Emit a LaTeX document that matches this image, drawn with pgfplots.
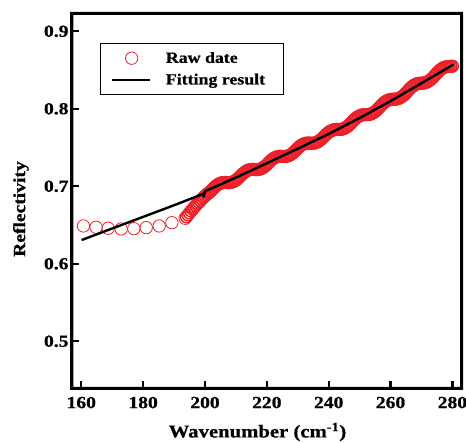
\documentclass[border=0pt]{standalone}
\usepackage{fontspec}
\setmainfont{Liberation Serif}[FakeStretch=1.15, BoldFeatures={FakeBold=0.8}]
\usepackage{pgfplots}
\pgfplotsset{compat=1.18}
\definecolor{rawred}{RGB}{236,32,40}
\pgfplotsset{
  rawleg/.style={legend image code/.code={\draw[##1] plot coordinates {(20pt,0pt)};}},
  lineleg/.style={legend image code/.code={\draw[##1] (0pt,0pt) -- (38pt,0pt);}},
}
\begin{document}
\begin{tikzpicture}
\begin{axis}[
  name=ax,
  scale only axis, width=389.7pt, height=375pt,
  xmin=157, xmax=283, ymin=0.4393, ymax=0.9232,
  clip marker paths=true,
  axis line style={line width=3pt, black},
  tick pos=left, tick align=inside,
  major tick length=7pt,
  every tick/.append style={line width=2.2pt, black},
  xtick={160,180,200,220,240,260,280},
  ytick={0.5,0.6,0.7,0.8,0.9},
  yticklabel style={/pgf/number format/fixed, /pgf/number format/precision=1, /pgf/number format/fixed zerofill},
  /pgf/number format/assume math mode=true,
  ticklabel style={font=\fontsize{17}{20}\selectfont\bfseries},
  xticklabel style={yshift=-5pt},
  xlabel={Wavenumber (cm\textsuperscript{-1})},
  ylabel={Reflectivity},
  xlabel style={at={(axis description cs:0.476,-0.131)}, anchor=base, font=\fontsize{18}{21}\selectfont\bfseries},
  ylabel style={at={(axis description cs:-0.131,0.478)}, anchor=center, font=\fontsize{17}{20}\selectfont\bfseries},
  legend style={at={(0.0719,0.9208)}, anchor=north west, draw=black, line width=1pt,
    font=\fontsize{15.5}{18}\selectfont\bfseries, inner xsep=10pt, inner ysep=8.5pt,
    row sep=9.3pt, column sep=15pt, nodes={inner sep=0pt}},
  legend cell align=left,
]
\addplot[only marks, mark=o, mark size=6.2pt, color=rawred, mark options={line width=0.8pt}, rawleg]
coordinates {
(160.7,0.6488)(164.8,0.6471)(168.7,0.6458)(172.9,0.6449)(177.0,0.6453)(181.0,0.6466)(185.2,0.6488)(189.3,0.6530)(193.6,0.6587)
};
\addlegendentry{Raw date}
\addplot[only marks, mark=o, mark size=5.9pt, color=rawred, mark options={line width=1.4pt}, forget plot]
coordinates {
(194.0,0.6605)(194.5,0.6630)(195.0,0.6655)(195.5,0.6680)(196.0,0.6703)(196.5,0.6726)(197.0,0.6750)(197.5,0.6772)
(198.0,0.6794)(198.5,0.6815)(199.0,0.6836)(199.5,0.6856)(200.0,0.6875)(200.5,0.6893)(201.0,0.6909)(201.5,0.6923)
(202.0,0.6943)(202.5,0.6963)(203.0,0.6984)(203.5,0.7002)(204.0,0.7018)(204.5,0.7030)(205.0,0.7039)(205.5,0.7046)
(206.0,0.7049)(206.5,0.7050)(207.0,0.7048)(207.5,0.7046)(208.0,0.7047)(208.5,0.7050)(209.0,0.7057)(209.5,0.7066)
(210.0,0.7079)(210.5,0.7094)(211.0,0.7112)(211.5,0.7133)(212.0,0.7153)(212.5,0.7171)(213.0,0.7187)(213.5,0.7199)
(214.0,0.7208)(214.5,0.7214)(215.0,0.7218)(215.5,0.7218)(216.0,0.7216)(216.5,0.7214)(217.0,0.7215)(217.5,0.7218)
(218.0,0.7224)(218.5,0.7233)(219.0,0.7246)(219.5,0.7261)(220.0,0.7279)(220.5,0.7300)(221.0,0.7320)(221.5,0.7339)
(222.0,0.7354)(222.5,0.7367)(223.0,0.7376)(223.5,0.7383)(224.0,0.7386)(224.5,0.7387)(225.0,0.7385)(225.5,0.7384)
(226.0,0.7384)(226.5,0.7388)(227.0,0.7394)(227.5,0.7404)(228.0,0.7416)(228.5,0.7432)(229.0,0.7450)(229.5,0.7471)
(230.0,0.7491)(230.5,0.7510)(231.0,0.7525)(231.5,0.7538)(232.0,0.7547)(232.5,0.7554)(233.0,0.7557)(233.5,0.7558)
(234.0,0.7556)(234.5,0.7555)(235.0,0.7555)(235.5,0.7559)(236.0,0.7565)(236.5,0.7575)(237.0,0.7587)(237.5,0.7603)
(238.0,0.7621)(238.5,0.7642)(239.0,0.7662)(239.5,0.7681)(240.0,0.7696)(240.5,0.7710)(241.0,0.7720)(241.5,0.7728)
(242.0,0.7732)(242.5,0.7734)(243.0,0.7733)(243.5,0.7733)(244.0,0.7734)(244.5,0.7739)(245.0,0.7746)(245.5,0.7757)
(246.0,0.7770)(246.5,0.7787)(247.0,0.7806)(247.5,0.7828)(248.0,0.7849)(248.5,0.7869)(249.0,0.7885)(249.5,0.7899)
(250.0,0.7909)(250.5,0.7917)(251.0,0.7922)(251.5,0.7924)(252.0,0.7924)(252.5,0.7924)(253.0,0.7926)(253.5,0.7931)
(254.0,0.7939)(254.5,0.7950)(255.0,0.7964)(255.5,0.7981)(256.0,0.8001)(256.5,0.8023)(257.0,0.8045)(257.5,0.8065)
(258.0,0.8082)(258.5,0.8096)(259.0,0.8107)(259.5,0.8115)(260.0,0.8120)(260.5,0.8123)(261.0,0.8123)(261.5,0.8124)
(262.0,0.8126)(262.5,0.8132)(263.0,0.8140)(263.5,0.8152)(264.0,0.8166)(264.5,0.8184)(265.0,0.8204)(265.5,0.8227)
(266.0,0.8249)(266.5,0.8270)(267.0,0.8287)(267.5,0.8302)(268.0,0.8313)(268.5,0.8322)(269.0,0.8327)(269.5,0.8330)
(270.0,0.8330)(270.5,0.8331)(271.0,0.8334)(271.5,0.8340)(272.0,0.8349)(272.5,0.8361)(273.0,0.8376)(273.5,0.8394)
(274.0,0.8415)(274.5,0.8438)(275.0,0.8461)(275.5,0.8482)(276.0,0.8500)(276.5,0.8515)(277.0,0.8527)(277.5,0.8536)
(278.0,0.8542)(278.5,0.8545)(279.0,0.8546)(279.5,0.8547)(280.0,0.8550)
};
\addplot[black, line width=2.4pt, line join=round, lineleg]
coordinates {
(160.1,0.6306)(170,0.6455)(180,0.6605)(190,0.6755)(199.3,0.6900)(199.6,0.6868)(200.0,0.6935)
(210,0.7112)(220,0.7297)(230,0.7485)(240,0.7675)(250,0.7880)(260,0.8100)(270,0.8330)(280.3,0.8570)
};
\addlegendentry{Fitting result\hspace*{8pt}}
\end{axis}
\fill[black, even odd rule]
  ([shift={(-1.5pt,-1.5pt)}]ax.south west) rectangle ([shift={(1.5pt,1.5pt)}]ax.north east)
  ([shift={(1.5pt,1.5pt)}]ax.south west) rectangle ([shift={(-1.5pt,-1.5pt)}]ax.north east);
\pgfresetboundingbox
\path[use as bounding box] ([xshift=-72pt,yshift=-54.7pt]ax.south west) rectangle ([xshift=4.3pt,yshift=13.3pt]ax.north east);
\end{tikzpicture}
\end{document}
